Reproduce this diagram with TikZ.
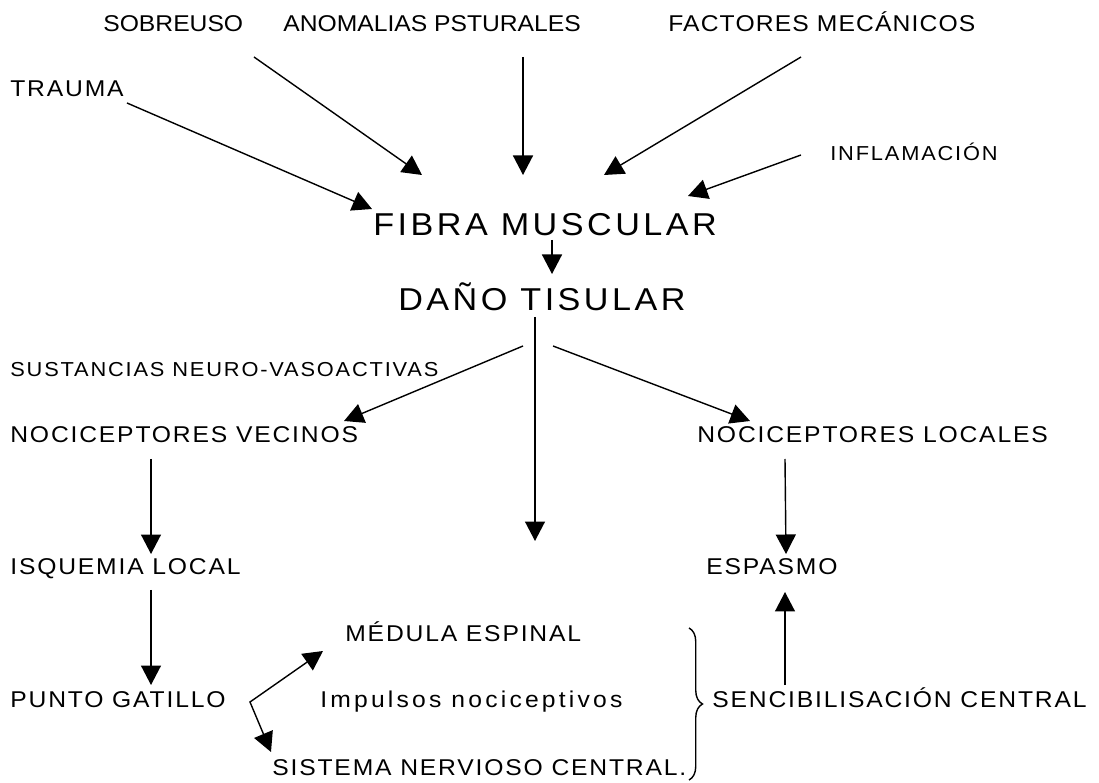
\documentclass[tikz,border=0pt]{standalone}
\usepackage{fontspec}
\setmainfont{Liberation Sans}[FakeStretch=1.08, LetterSpace=8]
\usetikzlibrary{arrows.meta,decorations.pathreplacing}

\begin{document}
\begin{tikzpicture}[x=0.02cm, y=-0.02cm,
  every node/.style={inner sep=0pt, anchor=base west},
  lab/.style={font=\fontsize{13}{15}\selectfont},
  toplab/.style={font=\fontsize{13}{15}\selectfont\addfontfeature{LetterSpace=#1}},
  biglab/.style={font=\fontsize{18}{22}\selectfont\addfontfeature{LetterSpace=11}},
  smalllab/.style={font=\fontsize{11.5}{14}\selectfont\addfontfeature{LetterSpace=9}},
  arr/.style={-{Triangle[length=3.9mm,width=4mm]}, line width=0.8pt},
  dblarr/.style={{Triangle[length=3.9mm,width=4mm]}-{Triangle[length=3.9mm,width=4mm]}, line width=0.8pt},
  brc/.style={decorate, decoration={brace, amplitude=0.27cm}, line width=0.8pt}
]
\useasboundingbox (0,0) rectangle (1099,783);

% causas
\node[toplab=0] (sobre) at (103,32) {SOBREUSO};
\node[toplab=0] (anom) at (283,32) {ANOMALIAS PSTURALES};
\node[toplab=5] (fact) at (668,32) {FACTORES MECÁNICOS};
\node[lab] (trauma) at (10,97) {TRAUMA};
\node[smalllab] (infl) at (830,161) {INFLAMACIÓN};

\node[biglab] (fibra) at (373,236) {FIBRA MUSCULAR};
\node[biglab] (dano) at (398,311) {DAÑO TISULAR};

\node[smalllab] (sust) at (10,377) {SUSTANCIAS NEURO-VASOACTIVAS};
\node[lab] (nvec) at (10,443) {NOCICEPTORES VECINOS};
\node[lab] (nloc) at (697,443) {NOCICEPTORES LOCALES};
\node[lab] (isq) at (10,575) {ISQUEMIA LOCAL};
\node[lab] (esp) at (706,575) {ESPASMO};
\node[lab] (med) at (345,642) {MÉDULA ESPINAL};
\node[lab] (punto) at (10,707) {PUNTO GATILLO};
\node[toplab=14] (imp) at (320,707) {Impulsos nociceptivos};
\node[lab] (senc) at (712,707) {SENCIBILISACIÓN CENTRAL};
\node[lab] (snc) at (272,775) {SISTEMA NERVIOSO CENTRAL.};

\coordinate (cen) at (535,541);
\coordinate (btop) at ([shift={(-23,-79)}]senc.base west);
\coordinate (bbot) at ([shift={(-23,73)}]senc.base west);

\draw[arr] ([shift={(151,25)}]sobre.base west) -- ([shift={(49,-61)}]fibra.base west);
\draw[arr] ([shift={(240,25)}]anom.base west) -- ([shift={(150,-61)}]fibra.base west);
\draw[arr] ([shift={(133,25)}]fact.base west) -- ([shift={(231,-61)}]fibra.base west);
\draw[arr] ([shift={(117,6)}]trauma.base west) -- ([shift={(-1,-27)}]fibra.base west);
\draw[arr] ([shift={(-29,-6)}]infl.base west) -- ([shift={(315,-40)}]fibra.base west);
\draw[arr] ([shift={(179,4)}]fibra.base west) -- ([shift={(154,-37)}]dano.base west);

\draw[arr] ([shift={(137,6)}]dano.base west) -- (cen);
\draw[arr] ([shift={(125,35)}]dano.base west) -- ([shift={(334,-22)}]nvec.base west);
\draw[arr] ([shift={(155,35)}]dano.base west) -- ([shift={(53,-22)}]nloc.base west);

\draw[arr] ([shift={(141,16)}]nvec.base west) -- ([shift={(141,-21)}]isq.base west);
\draw[arr] ([shift={(141,15)}]isq.base west) -- ([shift={(141,-22)}]punto.base west);
\draw[arr] ([shift={(88,16)}]nloc.base west) -- ([shift={(80,-21)}]esp.base west);
\draw[arr] ([shift={(73,-22)}]senc.base west) -- ([shift={(79,17)}]esp.base west);

\draw[dblarr] ([shift={(-22,9)}]med.base west) -- ([shift={(240,-5)}]punto.base west)
  -- ([shift={(-1,-23)}]snc.base west);

\draw[brc] (btop) -- (bbot);
\end{tikzpicture}
\end{document}
